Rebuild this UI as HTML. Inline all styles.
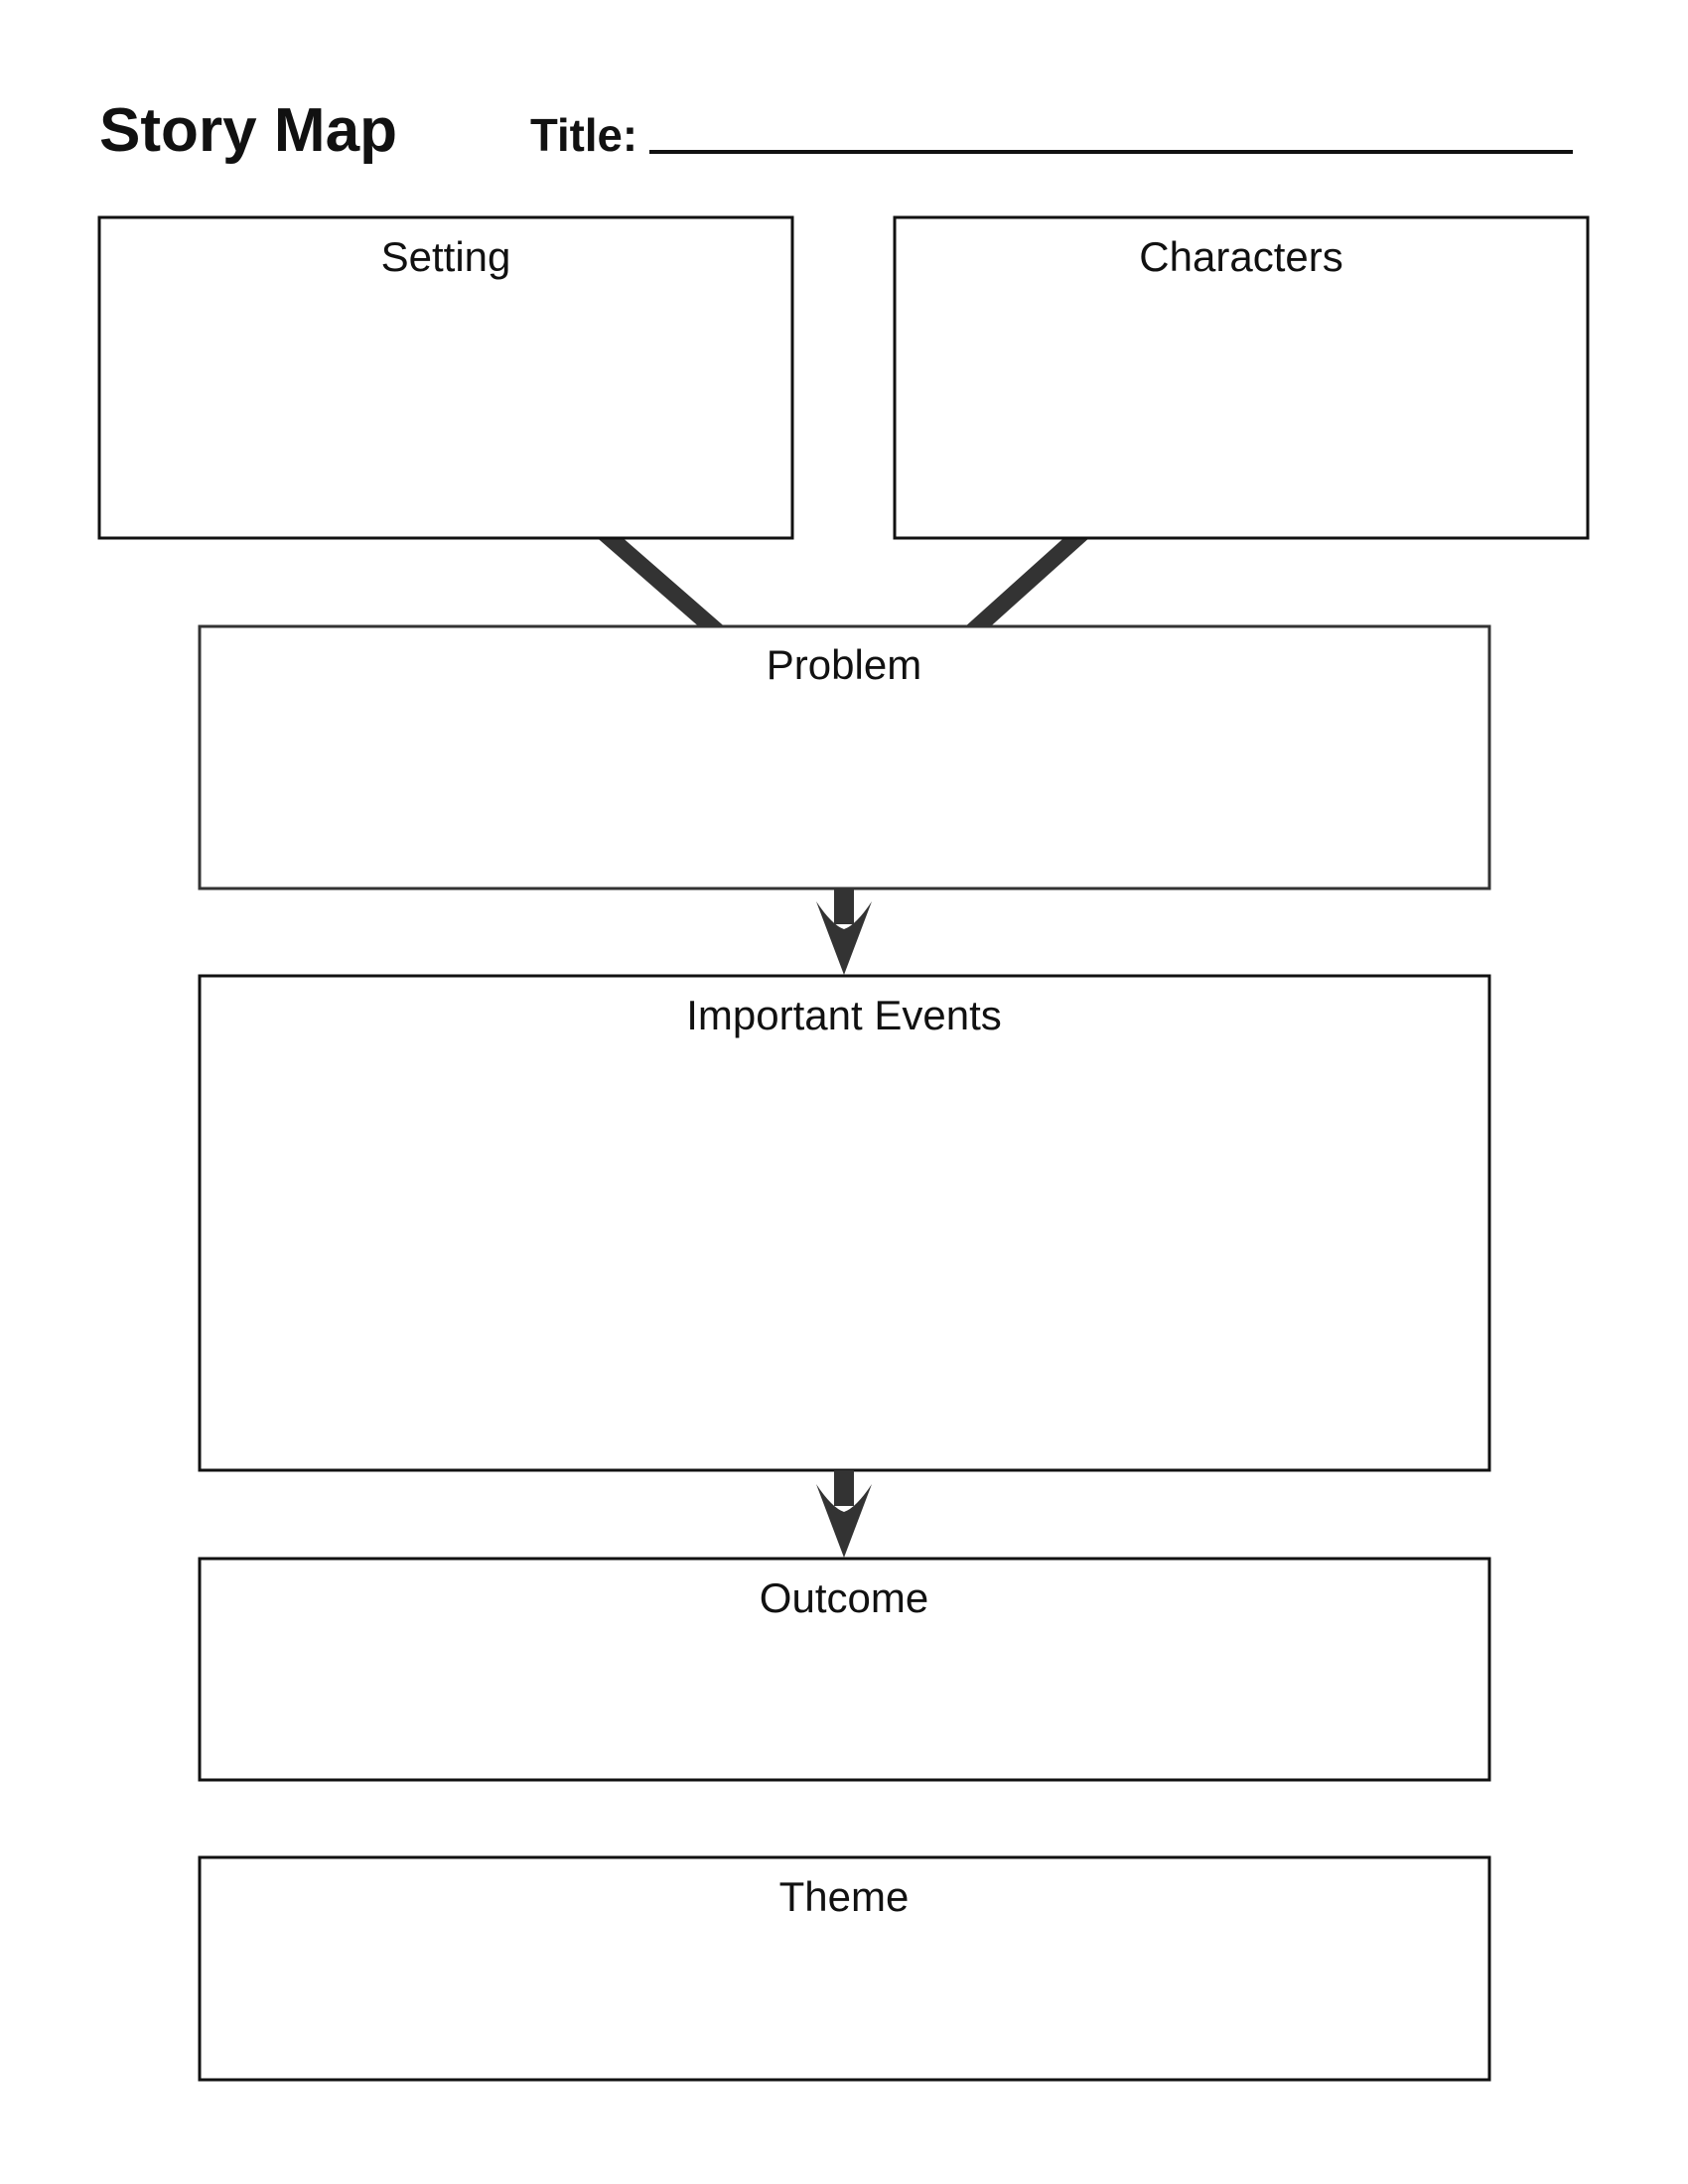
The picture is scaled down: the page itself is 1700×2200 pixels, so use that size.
<!DOCTYPE html>
<html><head><meta charset="utf-8"><style>
body{margin:0;background:#fff;}
svg{display:block}
</style></head><body>
<svg width="1700" height="2200" viewBox="0 0 1700 2200" xmlns="http://www.w3.org/2000/svg">
<rect width="1700" height="2200" fill="#fff"/>
<text x="100" y="152" font-family="Liberation Sans, sans-serif" font-weight="bold" font-size="62" fill="#111" textLength="300" lengthAdjust="spacingAndGlyphs">Story Map</text>
<text x="534" y="152" font-family="Liberation Sans, sans-serif" font-weight="bold" font-size="46" fill="#111" textLength="108" lengthAdjust="spacingAndGlyphs">Title:</text>
<rect x="654" y="151" width="930" height="4" fill="#111"/>
<g stroke="#333" stroke-width="17" stroke-linecap="butt">
<line x1="595" y1="525" x2="736" y2="648"/>
<line x1="1103" y1="525" x2="966" y2="648"/>
</g>
<g fill="#fff" stroke="#111" stroke-width="3">
<rect x="100" y="219" width="698" height="323"/>
<rect x="901" y="219" width="698" height="323"/>
<rect x="201" y="631" width="1299" height="264" stroke="#333"/>
<rect x="201" y="983" width="1299" height="498"/>
<rect x="201" y="1570" width="1299" height="223"/>
<rect x="201" y="1871" width="1299" height="224"/>
</g>
<g fill="#333">
<rect x="840" y="895" width="20" height="36"/>
<path d="M850 982 L822 908 Q838 932 850 936 Q862 932 878 908 Z"/>
<rect x="840" y="1481" width="20" height="36"/>
<path d="M850 1569 L822 1495 Q838 1519 850 1523 Q862 1519 878 1495 Z"/>
</g>
<g font-family="Liberation Sans, sans-serif" font-size="42" fill="#111" text-anchor="middle">
<text x="449" y="273">Setting</text>
<text x="1250" y="273">Characters</text>
<text x="850" y="684">Problem</text>
<text x="850" y="1037">Important Events</text>
<text x="850" y="1624">Outcome</text>
<text x="850" y="1925">Theme</text>
</g>
</svg>
</body></html>
